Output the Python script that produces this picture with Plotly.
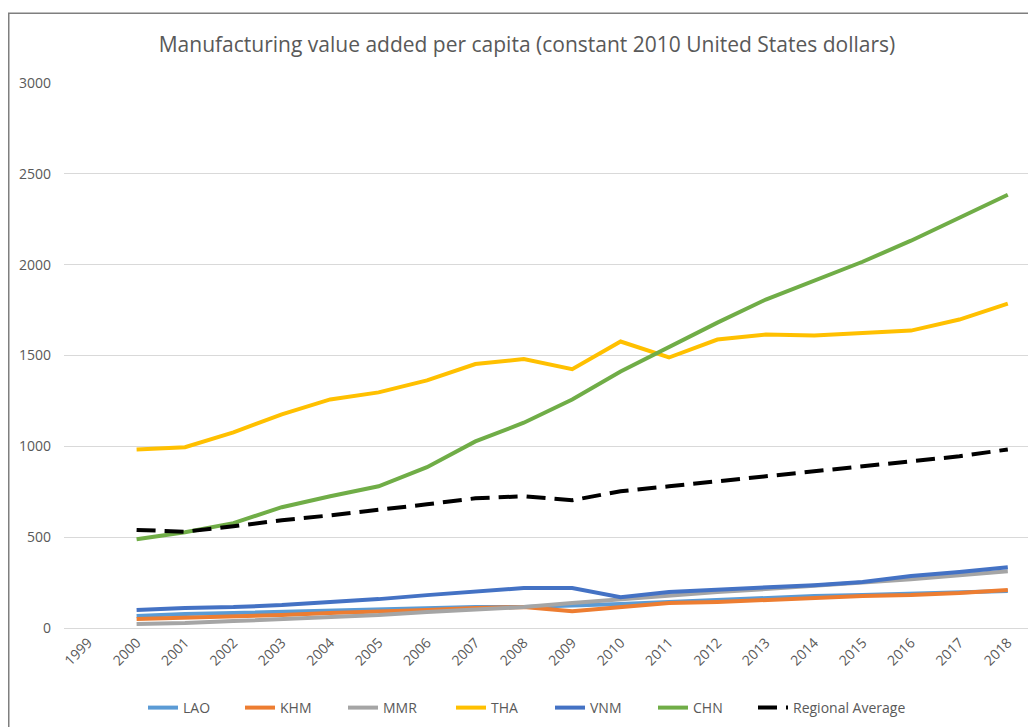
import plotly.graph_objects as go

years = list(range(2000, 2019))
tick_years = list(range(1999, 2019))

lao = [66, 77, 82, 88, 93, 99, 110, 115, 115, 121, 132, 143, 154, 165, 176, 181, 187, 198, 203]
khm = [49, 55, 60, 71, 82, 88, 99, 110, 115, 92, 115, 137, 143, 154, 165, 176, 181, 192, 209]
mmr = [22, 27, 38, 49, 60, 71, 88, 99, 115, 137, 159, 181, 198, 214, 231, 247, 269, 291, 313]
tha = [983, 995, 1077, 1176, 1258, 1297, 1363, 1453, 1480, 1425, 1577, 1489, 1588, 1615, 1610, 1626, 1637, 1698, 1786]
vnm = [99, 110, 115, 126, 143, 159, 181, 203, 220, 220, 170, 198, 209, 220, 236, 253, 286, 308, 335]
chn = [489, 527, 577, 665, 725, 780, 885, 1027, 1130, 1258, 1412, 1549, 1681, 1808, 1912, 2016, 2132, 2258, 2385]
avg = [540, 530, 560, 593, 620, 648, 681, 714, 725, 703, 753, 780, 808, 835, 863, 890, 918, 945, 983]

series = [
    ("LAO", lao, "#5B9BD5", "solid", 52),
    ("KHM", khm, "#ED7D31", "solid", 58),
    ("MMR", mmr, "#A5A5A5", "solid", 63),
    ("THA", tha, "#FFC000", "solid", 54),
    ("VNM", vnm, "#4472C4", "solid", 58),
    ("CHN", chn, "#70AD47", "solid", 55),
    ("Regional Average", avg, "#000000", "19px,9px", None),
]

fig = go.Figure()
for name, vals, color, dash, lw in series:
    kw = {}
    if lw is not None:
        kw["legendwidth"] = lw
    fig.add_trace(go.Scatter(
        x=years, y=vals, name=name, mode="lines",
        line=dict(color=color, width=4, dash=dash), **kw,
    ))

font_family = "Open Sans, Liberation Sans, sans-serif"

W, H = 1028, 719
L, R, T, B = 56, 4, 75, 98
pw, ph = W - L - R, H - T - B

fig.update_layout(
    width=W, height=H,
    margin=dict(l=L, r=R, t=T, b=B),
    paper_bgcolor="white", plot_bgcolor="white",
    font=dict(family=font_family, color="#595959", size=14),
    title=dict(
        text="Manufacturing value added per capita (constant 2010 United States dollars)",
        x=(527 - 8) / W, xanchor="center", y=1 - 37 / H, yanchor="middle",
        font=dict(size=21, color="#595959", family=font_family),
    ),
    xaxis=dict(
        range=[1998.5, 2018.5],
        tickmode="array", tickvals=tick_years, ticktext=[str(y) for y in tick_years],
        tickangle=-45, showgrid=False, zeroline=False,
        showline=True, linecolor="#D9D9D9", linewidth=1,
        ticks="", tickfont=dict(size=14, color="#595959"),
    ),
    yaxis=dict(
        range=[0, 3000], tickmode="array", tickvals=[0, 500, 1000, 1500, 2000, 2500, 3000],
        showgrid=True, gridcolor="#D9D9D9", gridwidth=1, zeroline=False,
        showline=False, ticks="", ticklabelstandoff=12,
        tickfont=dict(size=14, color="#595959"),
    ),
    legend=dict(
        orientation="h", x=(135 - L) / pw, xanchor="left",
        y=(ph - (708 - 8 - T)) / ph, yanchor="middle",
        font=dict(size=14, color="#595959"), traceorder="normal",
    ),
    showlegend=True,
)

fig.add_shape(
    type="rect", xref="paper", yref="paper",
    x0=(0.75 - L) / pw, x1=(W + 10 - L) / pw,
    y0=-0.3, y1=(ph - (5 - T)) / ph,
    line=dict(color="#7F7F7F", width=1.5), fillcolor="rgba(0,0,0,0)", layer="below",
)

fig.write_html("out.html")
